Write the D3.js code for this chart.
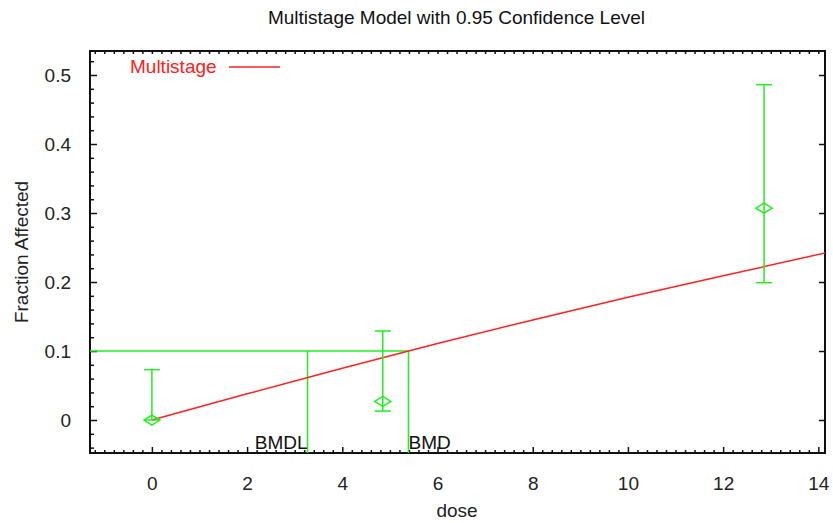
<!DOCTYPE html>
<html><head><meta charset="utf-8">
<script src="https://cdn.jsdelivr.net/npm/d3@7"></script>
<style>body{margin:0;background:#fff}svg{display:block;font-family:"Liberation Sans",Arial,sans-serif}</style>
</head><body><svg id="c" width="833" height="523"></svg>
<script>
// data
const doses = [0, 4.85, 12.86];
const means = [0, 0.027, 0.307];
const lowerCI = [0, 0.013, 0.199];
const upperCI = [0.073, 0.129, 0.486];
const fitDose = [0, 2, 4, 6, 8, 10, 12, 14.2];
const fitValue = [0, 0.038, 0.075, 0.111, 0.145, 0.178, 0.209, 0.243];
const bmr = 0.1, bmd = 5.39, bmdl = 3.27;
const xTicks = [0, 2, 4, 6, 8, 10, 12, 14];
const yTicks = [0, 0.1, 0.2, 0.3, 0.4, 0.5];
const titleText = "Multistage Model with 0.95 Confidence Level";
const legendLabel = "Multistage";

const L = 90, R = 825, T = 51, B = 453;
const svg = d3.select("#c");
const x = d3.scaleLinear().domain([-1.3, 14.14]).range([L, R]);
const y = d3.scaleLinear().domain([-0.0478, 0.5348]).range([B, T]);
const green = "#22ee22", red = "#ff2020", fs = 19;

svg.append("defs").append("clipPath").attr("id","clip")
  .append("rect").attr("x",L).attr("y",T).attr("width",R-L).attr("height",B-T);

// minor ticks
const xMinor = d3.range(-1.2, 14.15, 0.2).filter(v => Math.abs(v/2 - Math.round(v/2)) > 1e-6);
const yMinor = d3.range(-0.04, 0.535, 0.02).filter(v => Math.abs(v*10 - Math.round(v*10)) > 1e-6);

// bottom axis
const bAx = svg.append("g").attr("transform",`translate(0,${B})`)
  .call(d3.axisBottom(x).tickValues(xTicks).tickSize(-6).tickPadding(24).tickFormat(d3.format("d")));
svg.append("g").attr("transform",`translate(0,${B})`)
  .call(d3.axisBottom(x).tickValues(xMinor).tickSize(-3).tickFormat(""));
// top axis
svg.append("g").attr("transform",`translate(0,${T})`)
  .call(d3.axisTop(x).tickValues(xTicks.concat(xMinor)).tickSize(-3).tickFormat(""));
// left axis
svg.append("g").attr("transform",`translate(${L},0)`)
  .call(d3.axisLeft(y).tickValues(yTicks).tickSize(-7).tickPadding(19).tickFormat(d => d===0?"0":d3.format(".1f")(d)));
svg.append("g").attr("transform",`translate(${L},0)`)
  .call(d3.axisLeft(y).tickValues(yMinor).tickSize(-4).tickFormat(""));
// right axis
svg.append("g").attr("transform",`translate(${R},0)`)
  .call(d3.axisRight(y).tickValues(yTicks).tickSize(-6).tickFormat(""));

svg.selectAll(".domain").remove();
svg.selectAll(".tick line").attr("stroke","#111").attr("stroke-width",1.5);
svg.selectAll(".tick text").attr("font-size",fs).attr("fill","#222").attr("font-family","Liberation Sans, Arial, sans-serif");

// frame
svg.append("rect").attr("x",L).attr("y",T).attr("width",R-L).attr("height",B-T)
  .attr("fill","none").attr("stroke","#111").attr("stroke-width",2);

const plot = svg.append("g").attr("clip-path","url(#clip)");

// BMR / BMD lines
plot.append("line").attr("x1",L).attr("x2",x(bmd)).attr("y1",y(bmr)).attr("y2",y(bmr))
  .attr("stroke",green).attr("stroke-width",1.5);
[bmdl, bmd].forEach(v => plot.append("line").attr("x1",x(v)).attr("x2",x(v)).attr("y1",y(bmr)).attr("y2",B)
  .attr("stroke",green).attr("stroke-width",1.5));

// fit line
plot.append("path").datum(fitDose.map((d,i)=>[d,fitValue[i]]))
  .attr("d", d3.line().x(d=>x(d[0])).y(d=>y(d[1])))
  .attr("fill","none").attr("stroke",red).attr("stroke-width",1.5);

// error bars
doses.forEach((d,i) => {
  const g = plot.append("g").attr("stroke",green).attr("stroke-width",1.5).attr("fill","none");
  g.append("line").attr("x1",x(d)).attr("x2",x(d)).attr("y1",y(lowerCI[i])).attr("y2",y(upperCI[i]));
  [lowerCI[i], upperCI[i]].forEach(v => g.append("line").attr("x1",x(d)-8).attr("x2",x(d)+8).attr("y1",y(v)).attr("y2",y(v)));
  const cx = x(d), cy = y(means[i]);
  g.append("path").attr("d",`M${cx-8},${cy}L${cx},${cy-5}L${cx+8},${cy}L${cx},${cy+5}Z`);
});

// BMD labels
svg.append("text").attr("x",x(bmdl)).attr("y",B-4).attr("text-anchor","end")
  .attr("font-size",fs).attr("fill","#111").text("BMDL");
svg.append("text").attr("x",x(bmd)).attr("y",B-4).attr("text-anchor","start")
  .attr("font-size",fs).attr("fill","#111").text("BMD");

// legend
svg.append("text").attr("x",130).attr("y",73).attr("font-size",fs).attr("fill",red).text(legendLabel);
svg.append("line").attr("x1",229).attr("x2",280).attr("y1",67).attr("y2",67).attr("stroke",red).attr("stroke-width",1.5);

// title & axis labels
svg.append("text").attr("x",456.5).attr("y",24).attr("text-anchor","middle").attr("font-size",fs).attr("fill","#111").text(titleText);
svg.append("text").attr("x",457).attr("y",517).attr("text-anchor","middle").attr("font-size",fs).attr("fill","#222").text("dose");
svg.append("text").attr("transform",`translate(28,252) rotate(-90)`).attr("text-anchor","middle").attr("font-size",fs).attr("fill","#222").text("Fraction Affected");
</script></body></html>
